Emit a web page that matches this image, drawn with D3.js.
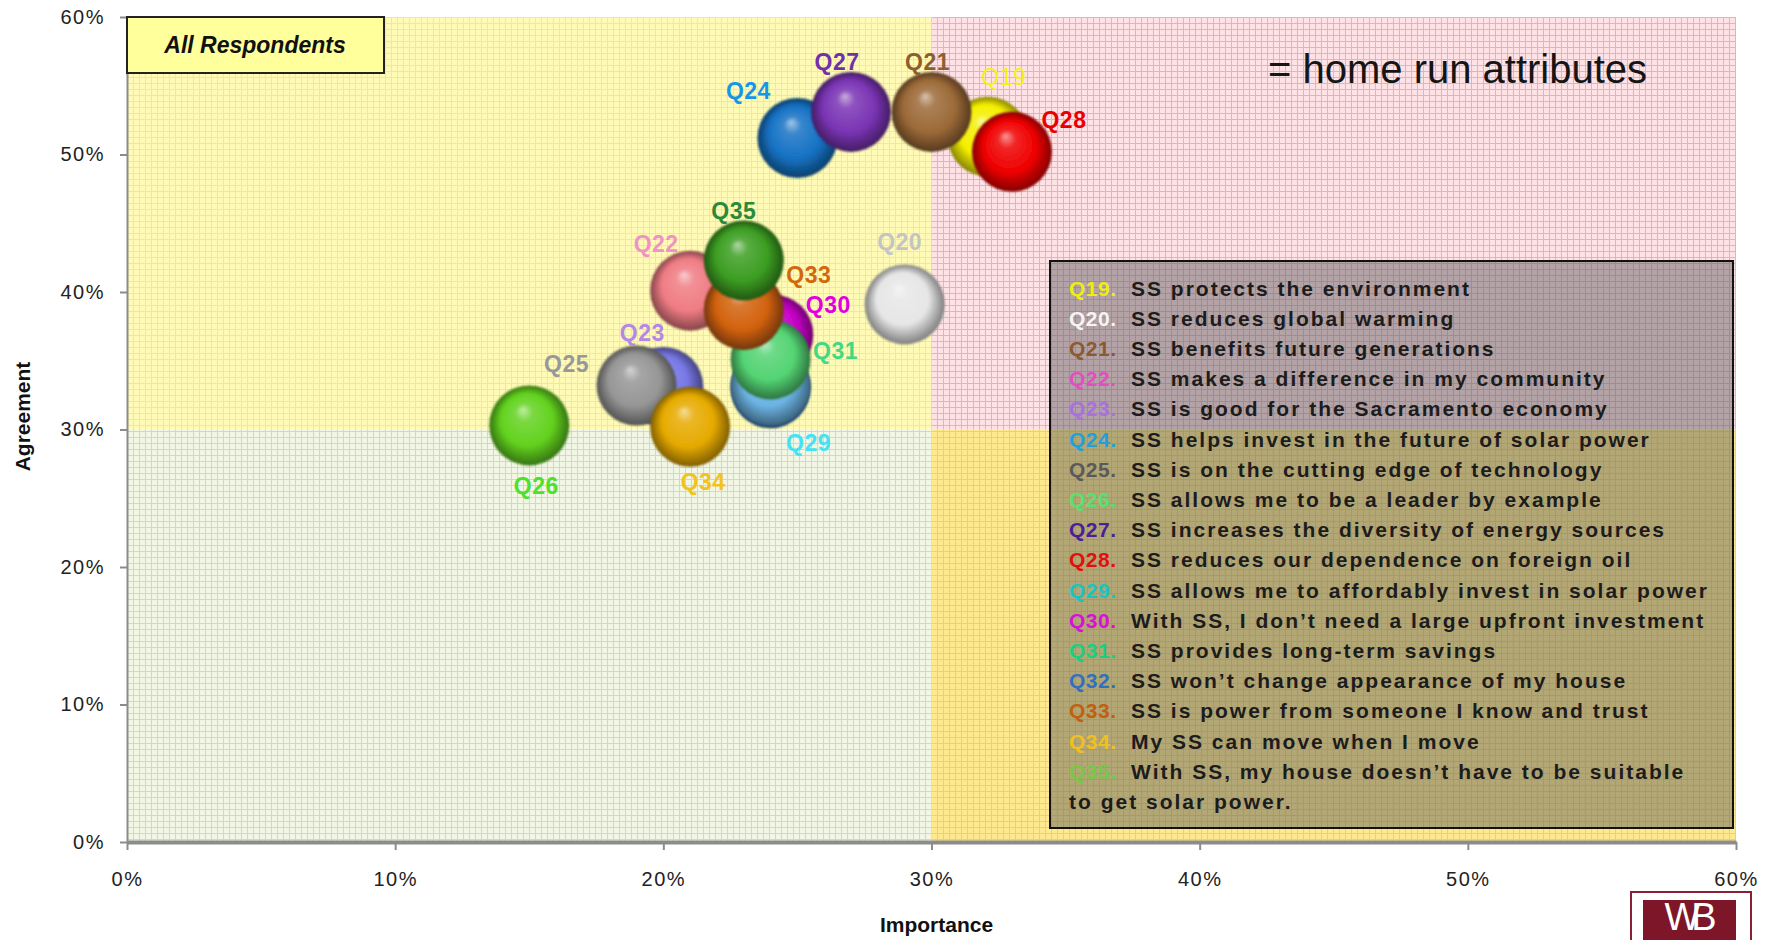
<!DOCTYPE html>
<html>
<head>
<meta charset="utf-8">
<script src="https://d3js.org/d3.v7.min.js"></script>
<style>
body { margin: 0; background: #fff; }
svg { display: block; }
text { font-family: "Liberation Sans", Arial, sans-serif; }
</style>
</head>
<body>
<div id="chart"></div>
<script>

// Survey attributes (question codes + wording)
var questions = ["Q19", "Q20", "Q21", "Q22", "Q23", "Q24", "Q25", "Q26", "Q27",
                 "Q28", "Q29", "Q30", "Q31", "Q32", "Q33", "Q34", "Q35"];

var descriptions = [
    "SS protects the environment",
    "SS reduces global warming",
    "SS benefits future generations",
    "SS makes a difference in my community",
    "SS is good for the Sacramento economy",
    "SS helps invest in the future of solar power",
    "SS is on the cutting edge of technology",
    "SS allows me to be a leader by example",
    "SS increases the diversity of energy sources",
    "SS reduces our dependence on foreign oil",
    "SS allows me to affordably invest in solar power",
    "With SS, I don\u2019t need a large upfront investment",
    "SS provides long-term savings",
    "SS won\u2019t change appearance of my house",
    "SS is power from someone I know and trust",
    "My SS can move when I move",
    "With SS, my house doesn\u2019t have to be suitable\nto get solar power."
];

// Importance (x, %) and agreement (y, %)
var importance = [32.1, 29.0, 30.0, 21.0, 20.0, 25.0, 19.0, 15.0, 27.0,
                  33.0, 24.0, 24.1, 24.0, 24.0, 23.0, 21.0, 23.0];
var agreement  = [51.3, 39.1, 53.1, 40.1, 33.1, 51.2, 33.2, 30.3, 53.1,
                  50.2, 33.2, 36.9, 35.1, 33.0, 38.7, 30.2, 42.3];

var xTicks = [0, 10, 20, 30, 40, 50, 60];
var yTicks = [0, 10, 20, 30, 40, 50, 60];
var threshold = 30;   // quadrant split on both axes

var panelTitle = "All Respondents";
var noteText = "= home run attributes";
var xTitle = "Importance";
var yTitle = "Agreement";

// ---- styles ----
var bubbleColor = {
    Q19: "#f4f000", Q20: "#e6e6e6", Q21: "#9c6a38", Q22: "#f07c84", Q23: "#7878e6",
    Q24: "#1672c4", Q25: "#969696", Q26: "#62d21e", Q27: "#7a34b4", Q28: "#f00000",
    Q29: "#6cb4e4", Q30: "#c800c8", Q31: "#54d474", Q32: "#3a78c0", Q33: "#d2620e",
    Q34: "#e6aa00", Q35: "#3c9e22"
};
var labelColor = {
    Q19: "#f2f21a", Q20: "#c4c4c4", Q21: "#8c5e30", Q22: "#f092c4", Q23: "#b488e4",
    Q24: "#1896e6", Q25: "#989898", Q26: "#4ee02c", Q27: "#7230a8", Q28: "#e80000",
    Q29: "#44e2f2", Q30: "#e000e0", Q31: "#44d884", Q32: "#3a78c0", Q33: "#d2680e",
    Q34: "#f2c21e", Q35: "#2a8a3a"
};
var legendColor = {
    Q19: "#eeee10", Q20: "#f4f4f4", Q21: "#8c5a30", Q22: "#e050c0", Q23: "#a870e0",
    Q24: "#22a0d8", Q25: "#5a5a5a", Q26: "#58e070", Q27: "#4a2098", Q28: "#e01010",
    Q29: "#18c4c4", Q30: "#d810d8", Q31: "#18d080", Q32: "#3070c0", Q33: "#c06010",
    Q34: "#f0c020", Q35: "#78c848"
};
// label placement relative to bubble centre (px); null = hidden label
var labelOffset = {
    Q19: [16, -60], Q20: [-5, -63], Q21: [-4, -50], Q22: [-34, -47], Q23: [-21, -54],
    Q24: [-49, -47], Q25: [-70, -22], Q26: [7, 60], Q27: [-14, -50], Q28: [52, -32],
    Q29: [38, 57], Q30: [55, -30], Q31: [65, -9], Q32: null, Q33: [65, -35],
    Q34: [13, 55], Q35: [-10, -50]
};
var quadStyle = [
    { x0: 0,  x1: 30, y0: 30, y1: 60, fill: "#fffbb6", line: "#f3e98e" },
    { x0: 30, x1: 60, y0: 30, y1: 60, fill: "#ffe2e6", line: "#f6aab4" },
    { x0: 0,  x1: 30, y0: 0,  y1: 30, fill: "#f1f7e4", line: "#cfdac2" },
    { x0: 30, x1: 60, y0: 0,  y1: 30, fill: "#ffe98e", line: "#f2d062" }
];

var margin = { top: 17, right: 43, bottom: 98, left: 127 };
var width = 1779 - margin.left - margin.right,
    height = 940 - margin.top - margin.bottom;
var radius = 40;

var root = d3.select("#chart").append("svg")
    .attr("width", 1779)
    .attr("height", 940);

var defs = root.append("defs");

var svg = root.append("g")
    .attr("transform", "translate(" + margin.left + "," + margin.top + ")");

// Scales and axes
var x = d3.scaleLinear().domain([0, 60]).range([0, width]);
var y = d3.scaleLinear().domain([0, 60]).range([height, 0]);

// Quadrant backgrounds with the fine grid fill
quadStyle.forEach(function(q, i) {
    var pat = defs.append("pattern")
        .attr("id", "grid" + i)
        .attr("patternUnits", "userSpaceOnUse")
        .attr("width", 6).attr("height", 6);
    pat.append("rect").attr("width", 6).attr("height", 6).attr("fill", q.fill);
    pat.append("path")
        .attr("d", "M0.5 0V6M0 0.5H6")
        .attr("stroke", q.line)
        .attr("stroke-width", 1);
});

svg.selectAll(".quad")
    .data(quadStyle)
    .enter().append("rect")
    .attr("class", "quad")
    .attr("x", function(d) { return x(d.x0); })
    .attr("y", function(d) { return y(d.y1); })
    .attr("width", function(d) { return x(d.x1) - x(d.x0); })
    .attr("height", function(d) { return y(d.y0) - y(d.y1); })
    .attr("fill", function(d, i) { return "url(#grid" + i + ")"; });

// Axes
var xAxis = d3.axisBottom(x).tickValues(xTicks).tickSize(8).tickSizeOuter(0)
    .tickFormat(function(d) { return d + "%"; });
var yAxis = d3.axisLeft(y).tickValues(yTicks).tickSize(7).tickSizeOuter(0)
    .tickFormat(function(d) { return d + "%"; });

var gx = svg.append("g")
    .attr("class", "x-axis axis")
    .attr("transform", "translate(0," + height + ")")
    .call(xAxis);
gx.select(".domain").attr("stroke", "#8c8c8c").attr("stroke-width", 4);
gx.selectAll(".tick line").attr("stroke", "#8c8c8c").attr("stroke-width", 2);
gx.selectAll(".tick text")
    .attr("y", 30)
    .attr("font-size", 20)
    .attr("letter-spacing", 1.5)
    .attr("font-family", "Liberation Sans, Arial, sans-serif")
    .attr("fill", "#222");

var gy = svg.append("g")
    .attr("class", "y-axis axis")
    .call(yAxis);
gy.select(".domain").attr("stroke", "#8c8c8c").attr("stroke-width", 2);
gy.selectAll(".tick line").attr("stroke", "#8c8c8c").attr("stroke-width", 2);
gy.selectAll(".tick text")
    .attr("x", -22)
    .attr("font-size", 20)
    .attr("letter-spacing", 1.5)
    .attr("font-family", "Liberation Sans, Arial, sans-serif")
    .attr("fill", "#222");

// Axis titles
svg.append("text")
    .attr("x", x(30) + 5)
    .attr("y", height + 90)
    .attr("text-anchor", "middle")
    .attr("font-size", 21)
    .attr("font-weight", "bold")
    .attr("fill", "#111")
    .text(xTitle);

svg.append("text")
    .attr("transform", "translate(" + (-104) + "," + (y(30) - 13) + ") rotate(-90)")
    .attr("text-anchor", "middle")
    .attr("dy", "0.35em")
    .attr("font-size", 21)
    .attr("font-weight", "bold")
    .attr("fill", "#111")
    .text(yTitle);

// Panel title box
var titleBox = svg.append("g");
titleBox.append("rect")
    .attr("x", 0).attr("y", 0)
    .attr("width", 257).attr("height", 56)
    .attr("fill", "#ffff9c")
    .attr("stroke", "#222")
    .attr("stroke-width", 2);
titleBox.append("text")
    .attr("x", 128).attr("y", 28)
    .attr("dy", "0.36em")
    .attr("text-anchor", "middle")
    .attr("font-size", 23)
    .attr("font-weight", "bold")
    .attr("font-style", "italic")
    .attr("fill", "#111")
    .text(panelTitle);

// Note text top right
svg.append("text")
    .attr("x", 1141).attr("y", 66)
    .attr("font-size", 40)
    .attr("fill", "#151515")
    .text(noteText);

// Build the point table
var points = questions.map(function(q, i) {
    return { id: q, x: importance[i], y: agreement[i], desc: descriptions[i] };
});
// Q32 sits underneath the Q29/Q31 stack
var drawOrder = points.filter(function(d) { return d.id === "Q32"; })
    .concat(points.filter(function(d) { return d.id !== "Q32"; }));

// Sphere shading gradients
points.forEach(function(d) {
    var c = bubbleColor[d.id];
    var g = defs.append("radialGradient")
        .attr("id", "sph-" + d.id)
        .attr("cx", "50%").attr("cy", "50%").attr("r", "50%")
        .attr("fx", "42%").attr("fy", "30%");
    g.append("stop").attr("offset", "0%").attr("stop-color", d3.interpolateRgb(c, "#fff")(0.6));
    g.append("stop").attr("offset", "22%").attr("stop-color", d3.interpolateRgb(c, "#fff")(0.15));
    g.append("stop").attr("offset", "65%").attr("stop-color", c);
    g.append("stop").attr("offset", "100%").attr("stop-color", d3.interpolateRgb(c, "#000")(0.45));
});

defs.append("filter").attr("id", "soft")
    .append("feGaussianBlur").attr("stdDeviation", 0.8);

svg.selectAll(".bubble")
    .data(drawOrder)
    .enter().append("circle")
    .attr("class", "bubble")
    .attr("cx", function(d) { return x(d.x); })
    .attr("cy", function(d) { return y(d.y); })
    .attr("r", radius)
    .attr("fill", function(d) { return "url(#sph-" + d.id + ")"; })
    .attr("filter", "url(#soft)");

// Bubble labels
svg.selectAll(".blabel")
    .data(points.filter(function(d) { return labelOffset[d.id]; }))
    .enter().append("text")
    .attr("class", "blabel")
    .attr("x", function(d) { return x(d.x) + labelOffset[d.id][0]; })
    .attr("y", function(d) { return y(d.y) + labelOffset[d.id][1]; })
    .attr("dy", "0.36em")
    .attr("text-anchor", "middle")
    .attr("font-size", 23)
    .attr("letter-spacing", 0.5)
    .attr("font-weight", function(d) { return d.id === "Q19" ? "normal" : "bold"; })
    .attr("fill", function(d) { return labelColor[d.id]; })
    .text(function(d) { return d.id; });

// Legend box
var legend = svg.append("g")
    .attr("transform", "translate(923,244)");
legend.append("rect")
    .attr("width", 683).attr("height", 567)
    .attr("fill", "rgba(88,86,88,0.45)")
    .attr("stroke", "#111")
    .attr("stroke-width", 2);

var rows = [];
points.forEach(function(d) {
    d.desc.split("\n").forEach(function(line, k) {
        rows.push({ id: k === 0 ? d.id : null, text: line });
    });
});

var row = legend.selectAll(".lrow")
    .data(rows)
    .enter().append("text")
    .attr("class", "lrow")
    .attr("y", function(d, i) { return 27 + i * 30.2; })
    .attr("dy", "0.36em")
    .attr("font-family", "DejaVu Sans, Verdana, sans-serif")
    .attr("font-weight", "bold")
    .attr("font-size", 21)
    .attr("letter-spacing", 2);

row.each(function(d) {
    var t = d3.select(this);
    if (d.id) {
        t.append("tspan")
            .attr("x", 19)
            .attr("letter-spacing", 0.5)
            .attr("fill", legendColor[d.id])
            .text(d.id + ".");
        t.append("tspan")
            .attr("x", 81)
            .attr("fill", "#1c1c1c")
            .text(d.text);
    } else {
        t.append("tspan")
            .attr("x", 19)
            .attr("fill", "#1c1c1c")
            .text(d.text);
    }
});

// Corner logo
var logo = root.append("g");
logo.append("rect")
    .attr("x", 1631).attr("y", 892)
    .attr("width", 120).attr("height", 60)
    .attr("fill", "#fff")
    .attr("stroke", "#8a2034")
    .attr("stroke-width", 2);
logo.append("rect")
    .attr("x", 1643).attr("y", 900)
    .attr("width", 93).attr("height", 50)
    .attr("fill", "#7e1629");
logo.append("text")
    .attr("x", 1686).attr("y", 930)
    .attr("text-anchor", "middle")
    .attr("font-family", "Liberation Serif, Times New Roman, serif")
    .attr("font-size", 38)
    .attr("letter-spacing", -9)
    .attr("fill", "#fff")
    .text("WB");

</script>
</body>
</html>
